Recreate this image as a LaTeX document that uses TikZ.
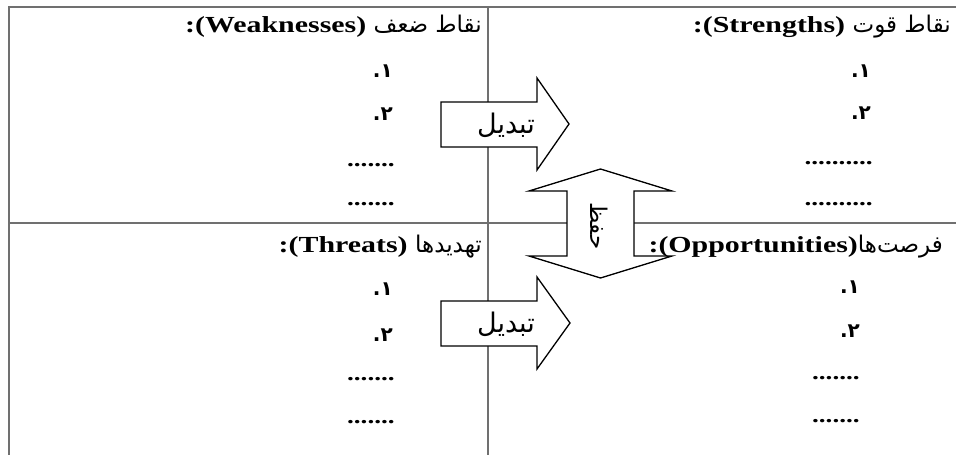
\documentclass[tikz,border=0pt]{standalone}
\usepackage{fontspec}
\setmainfont{Liberation Serif}[FakeStretch=1.3]
\newfontfamily\farsi[Script=Arabic]{DejaVu Sans}
\TeXXeTstate=1
\usepackage{tikz}
\definecolor{gridgray}{RGB}{112,112,112}
\tikzset{%
    gridline/.style={draw=gridgray, line width=1.6pt},
    blockarrow/.style={draw=black, fill=white, line width=1.3pt, line join=miter},
    heading/.style={anchor=base east, inner sep=0pt, font=\fontsize{23}{26}\selectfont},
    item/.style={anchor=base east, inner sep=0pt, font=\farsi\bfseries\fontsize{20}{22}\selectfont},
    dotrow/.style={anchor=base east, inner sep=0pt, font=\bfseries\fontsize{21}{24}\selectfont},
    arrowtext/.style={inner sep=0pt, font=\farsi\fontsize{27}{30}\selectfont}
}

\begin{document}
\begin{tikzpicture}[x=1pt,y=-1pt]
    \useasboundingbox (0,0) rectangle (956,455);
    % quadrants
    \draw[gridline] (9,455) -- (9,7) -- (956,7);
    \draw[gridline] (488,7) -- (488,455);
    \draw[gridline] (9,223) -- (956,223);
    % headings
    \node[heading] (strengths) at (951,32) {\textbf{:(Strengths)}\ {\farsi\beginR نقاط قوت\endR}};
    \node[heading] (weaknesses) at (482,32) {\textbf{:(Weaknesses)}\ {\farsi\beginR نقاط ضعف\endR}};
    \node[heading] (opportunities) at (943,252) {\textbf{:(Opportunities)}{\farsi\beginR فرصت‌ها\endR}};
    \node[heading] (threats) at (482,252) {\textbf{:(Threats)}\ {\farsi\beginR تهدیدها\endR}};
    % lists
    \node[item] (s1) at (871,77) {\beginR ۱.\endR};
    \node[item] (s2) at (871,119) {\beginR ۲.\endR};
    \node[dotrow] (s3) at (873,164) {..........};
    \node[dotrow] (s4) at (873,205) {..........};
    \node[item] (w1) at (393,77) {\beginR ۱.\endR};
    \node[item] (w2) at (393,120) {\beginR ۲.\endR};
    \node[dotrow] (w3) at (395,166) {.......};
    \node[dotrow] (w4) at (395,205) {.......};
    \node[item] (o1) at (860,293) {\beginR ۱.\endR};
    \node[item] (o2) at (860,337) {\beginR ۲.\endR};
    \node[dotrow] (o3) at (860,379) {.......};
    \node[dotrow] (o4) at (860,422) {.......};
    \node[item] (t1) at (393,295) {\beginR ۱.\endR};
    \node[item] (t2) at (393,341) {\beginR ۲.\endR};
    \node[dotrow] (t3) at (395,380) {.......};
    \node[dotrow] (t4) at (395,423) {.......};
    % arrows
    \draw[blockarrow] (441,102) -- (537,102) -- (537,78) -- (569,124) -- (537,170) -- (537,147) -- (441,147) -- cycle;
    \node[arrowtext] (upchange) at (506,125) {\beginR تبدیل\endR};
    \draw[blockarrow] (441,301) -- (537,301) -- (537,277) -- (570,323) -- (537,369) -- (537,346) -- (441,346) -- cycle;
    \node[arrowtext] (lowchange) at (506,324) {\beginR تبدیل\endR};
    \draw[blockarrow] (567,191) -- (529,191) -- (600.5,169) -- (672,191) -- (634,191) -- (634,256)
        -- (672,256) -- (600.5,278) -- (529,256) -- (567,256) -- cycle;
    \node[arrowtext, rotate=-90, font=\farsi\fontsize{23}{26}\selectfont] (keep) at (599,226) {\beginR حفظ\endR};
\end{tikzpicture}
\end{document}
